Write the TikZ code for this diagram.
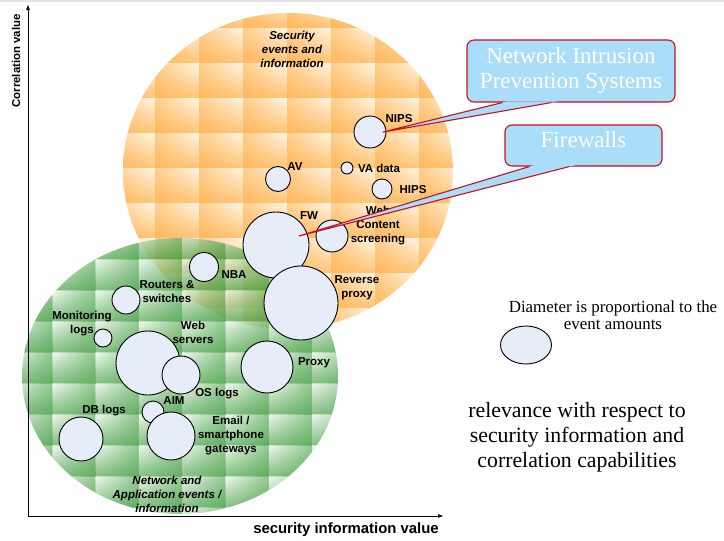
\documentclass[tikz,border=0pt]{standalone}
\usepackage{fontspec}
\setmainfont{Liberation Serif}
\setsansfont{Liberation Sans}
\usetikzlibrary{arrows.meta,shapes.geometric,calc,shadings}

\definecolor{tileorange}{RGB}{255,184,92}
\definecolor{tileorangelight}{RGB}{255,246,230}
\definecolor{tilegreen}{RGB}{44,146,44}
\definecolor{tilegreenlight}{RGB}{236,246,234}
\definecolor{bubblefill}{RGB}{230,236,248}
\definecolor{calloutfill}{RGB}{170,222,248}
\definecolor{calloutedge}{RGB}{200,16,32}

\begin{document}
\begin{tikzpicture}[x=1pt,y=-1pt,
  bubble/.style={circle,draw=black,line width=0.9pt,fill=bubblefill,inner sep=0pt,minimum size=#1},
  lbl/.style={font=\sffamily\bfseries\fontsize{11.5}{14}\selectfont,align=center,inner sep=0pt},
  grouplbl/.style={font=\sffamily\bfseries\itshape\fontsize{11.5}{14}\selectfont,align=center,inner sep=0pt},
  axisline/.style={line width=1pt,-{Latex[length=6pt,width=4pt]}},
  calloutbox/.style={rectangle,rounded corners=7pt,fill=calloutfill,draw=calloutedge,line width=1.1pt,
    text=white,font=\fontsize{23}{25}\selectfont,align=center,inner sep=0pt},
  tailfill/.style={fill=calloutfill},
  tailline/.style={draw=calloutedge,line width=1.1pt,line join=miter},
  orangetile/.style={upper left=tileorange!65!tileorangelight,upper right=tileorangelight,
    lower left=tileorange,lower right=tileorange!80!tileorangelight},
  greentile/.style={fill opacity=0.75,upper left=tilegreenlight,upper right=tilegreen!65!tilegreenlight,
    lower left=tilegreen!75!tilegreenlight,lower right=tilegreen}
]
\useasboundingbox (0,0) rectangle (724,541);
\fill[gray!22] (0,0) rectangle (724,1.5);

% security events disc: woven tiles clipped to a circle
\begin{scope}
  \clip (288,171) ellipse [x radius=165pt, y radius=158pt];
  \foreach \i in {0,...,8}{
    \foreach \j in {0,...,9}{
      \shade[orangetile] ({111+44*\i},{-7+35*\j}) rectangle ++(44,35);
    }
  }
\end{scope}

% network and application events disc, translucent over the first one
\begin{scope}
  \clip (180,376) ellipse [x radius=158pt, y radius=138pt];
  \foreach \i in {0,...,7}{
    \foreach \j in {0,...,9}{
      \shade[greentile] ({9+43.3*\i},{228+31*\j}) rectangle ++(43.3,31);
    }
  }
\end{scope}

% axes
\coordinate (origin) at (28,516);
\coordinate (ytip) at (28,4);
\coordinate (xtip) at (444,516);
\draw[axisline] (origin) -- (ytip);
\draw[axisline] (origin) -- (xtip);
\node[font=\sffamily\bfseries\fontsize{11.4}{13}\selectfont,rotate=90,inner sep=0pt] (ylabel) at (16,61) {Correlation value};
\node[font=\sffamily\bfseries\fontsize{14.9}{16}\selectfont,inner sep=0pt] (xlabel) at (346,530) {security information value};

% group titles
\node[grouplbl] (secgroup) at (292,49) {Security\\events and\\information};
\node[grouplbl] (netgroup) at (167,494) {Network and\\Application events /\\information};

% event sources, diameter ~ event amount
\node[bubble=32pt] (nips) at (370,132) {};
\node[bubble=25pt] (av) at (278,179) {};
\node[bubble=12pt] (va) at (347,168) {};
\node[bubble=20pt] (hips) at (382,189) {};
\node[bubble=66pt] (fw) at (276,245) {};
\node[bubble=32pt] (webcontent) at (332,236) {};
\node[bubble=29pt] (nba) at (204,267) {};
\node[bubble=74pt] (revproxy) at (301,303) {};
\node[bubble=28pt] (routers) at (126,300) {};
\node[bubble=18pt] (monitor) at (103,338) {};
\node[bubble=64pt] (websrv) at (148,363) {};
\node[bubble=38pt] (oslogs) at (181,375) {};
\node[bubble=52pt] (proxy) at (267,367) {};
\node[bubble=22pt] (aim) at (153,412) {};
\node[bubble=48pt] (email) at (171,436) {};
\node[bubble=44pt] (dblogs) at (81,439) {};

% bubble labels
\node[lbl] (lnips) at (399,119) {NIPS};
\node[lbl] (lav) at (295,167) {AV};
\node[lbl] (lva) at (379,168) {VA data};
\node[lbl] (lhips) at (413,190) {HIPS};
\node[lbl] (lfw) at (309,216) {FW};
\node[lbl] (lwebcontent) at (378,226) {Web\\Content\\screening};
\node[lbl] (lnba) at (234,275) {NBA};
\node[lbl] (lrevproxy) at (357,288) {Reverse\\proxy};
\node[lbl] (lrouters) at (167,292) {Routers \&\\switches};
\node[lbl] (lmonitor) at (82,324) {Monitoring\\logs};
\node[lbl] (lwebsrv) at (193,332) {Web\\servers};
\node[lbl] (loslogs) at (217,394) {OS logs};
\node[lbl] (lproxy) at (314,363) {Proxy};
\node[lbl] (laim) at (174,401) {AIM};
\node[lbl] (lemail) at (231,436) {Email /\\smartphone\\gateways};
\node[lbl] (ldblogs) at (104,411) {DB logs};

% legend
\node[ellipse,draw=black,line width=0.9pt,fill=bubblefill,minimum width=51pt,minimum height=38pt,inner sep=0pt] (legend) at (526,345) {};
\node[font=\fontsize{16.9}{17}\selectfont,align=center,inner sep=0pt] (legendtext) at (613,315) {Diameter is proportional to the\\event amounts};
\node[font=\fontsize{21.8}{25}\selectfont,align=center,inner sep=0pt] (relevance) at (577,437) {relevance with respect to\\security information and\\correlation capabilities};

% callouts
\node[calloutbox,minimum width=208pt,minimum height=62pt] (nipsbox) at (571,71) {Network Intrusion\\Prevention Systems};
\coordinate (nipstip) at ($(nips.center)+(13,0)$);
\coordinate (nipsA) at ($(nipsbox.south west)+(36,0)$);
\coordinate (nipsB) at ($(nipsbox.south west)+(85,0)$);
\fill[tailfill] ($(nipsA)!-0.04!(nipstip)$) -- (nipstip) -- ($(nipsB)!-0.04!(nipstip)$) -- cycle;
\draw[tailline] (nipsA) -- (nipstip) -- (nipsB);

\node[calloutbox,minimum width=157pt,minimum height=41pt,text depth=11pt] (fwbox) at (583.5,145.5) {Firewalls};
\coordinate (fwtip) at ($(fw.center)+(23,-9)$);
\coordinate (fwA) at ($(fwbox.south west)+(25,0)$);
\coordinate (fwB) at ($(fwbox.south west)+(65,0)$);
\fill[tailfill] ($(fwA)!-0.04!(fwtip)$) -- (fwtip) -- ($(fwB)!-0.04!(fwtip)$) -- cycle;
\draw[tailline] (fwA) -- (fwtip) -- (fwB);
\end{tikzpicture}
\end{document}
